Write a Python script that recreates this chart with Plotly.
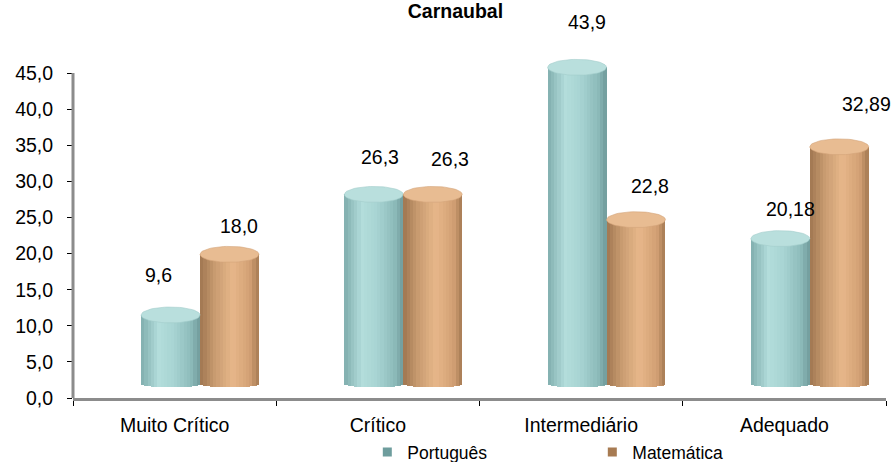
import numpy as np
import plotly.graph_objects as go

# ---- data -------------------------------------------------------------
categories = ["Muito Crítico", "Crítico", "Intermediário", "Adequado"]
portugues = [9.6, 26.3, 43.9, 20.18]
matematica = [18.0, 26.3, 22.8, 32.89]
portugues_decimals = [1, 1, 1, 2]
matematica_decimals = [1, 1, 1, 2]
y_tick_values = [0, 5, 10, 15, 20, 25, 30, 35, 40, 45]

# ---- cylinder styling -------------------------------------------------
FLOOR = 1.9        # depth lift of the 3-D floor (value units)
CAP_H = 1.1        # half-height of the top ellipse
BOTTOM_H = 0.4     # half-height of the rounded bottom
BAR_W = 0.29       # cylinder width in category units
N_SLICES = 18      # vertical strips used for the shading
FONT = "Liberation Sans, Arial, sans-serif"


def hex_to_rgb(h):
    h = h.lstrip("#")
    return np.array([int(h[i:i + 2], 16) for i in (0, 2, 4)], dtype=float)


def shade(stops, t):
    pos = [p for p, _ in stops]
    cols = [hex_to_rgb(c) for _, c in stops]
    for j in range(len(pos) - 1):
        if pos[j] <= t <= pos[j + 1]:
            f = (t - pos[j]) / (pos[j + 1] - pos[j])
            c = cols[j] * (1 - f) + cols[j + 1] * f
            return "rgb(%d,%d,%d)" % tuple(np.round(c))
    c = cols[-1]
    return "rgb(%d,%d,%d)" % tuple(np.round(c))


series = [
    dict(name="Português", values=portugues, decimals=portugues_decimals,
         offset=-0.165,
         stops=[(0, "#80AEAE"), (0.3, "#B3DDDB"), (0.55, "#A8D4D3"),
                (0.85, "#8DBBBA"), (1, "#6F9A9A")],
         cap="#B9DFDD", cap_line="#A3CCCB", legend="#6E9D9D",
         label_dx=[-12, 6, 10, 10], label_dy=[32, 29, 37, 22]),
    dict(name="Matemática", values=matematica, decimals=matematica_decimals,
         offset=0.125,
         stops=[(0, "#A07650"), (0.25, "#C89B70"), (0.55, "#E7B78A"),
                (0.85, "#D2A074"), (1, "#A57A53")],
         cap="#E8BC92", cap_line="#D3A57A", legend="#A77B52",
         label_dx=[9, 17, 14, 27], label_dy=[20, 27, 26, 35]),
]

x_pos = np.arange(len(categories))
fig = go.Figure()

# legend entries (small square keys)
for s in series:
    fig.add_trace(go.Scatter(x=[None], y=[None], name=s["name"],
                             mode="markers",
                             marker=dict(symbol="square", size=9,
                                         color=s["legend"]),
                             showlegend=True, hoverinfo="skip"))

annotations = []
for s in series:
    vals = np.array(s["values"], dtype=float)
    slice_w = BAR_W / N_SLICES
    # shaded body, built from narrow vertical strips
    for i in range(N_SLICES):
        u = ((i + 0.5) / N_SLICES) * 2 - 1
        drop = BOTTOM_H * np.sqrt(max(0.0, 1 - u * u))
        base = FLOOR - drop
        fig.add_trace(go.Bar(
            x=x_pos, y=vals + FLOOR - base, base=[base] * len(vals),
            offset=s["offset"] + i * slice_w,
            width=slice_w * (1.4 if i < N_SLICES - 1 else 1.0),
            marker=dict(color=shade(s["stops"], (i + 0.5) / N_SLICES),
                        line=dict(width=0)),
            showlegend=False, hoverinfo="skip", cliponaxis=False))
    # elliptical top caps
    t = np.linspace(0, 2 * np.pi, 61)
    cx_all, cy_all = [], []
    for k, v in enumerate(vals):
        cx = k + s["offset"] + BAR_W / 2
        cy = v + FLOOR
        cx_all += list(cx + (BAR_W / 2) * np.cos(t)) + [None]
        cy_all += list(cy + CAP_H * np.sin(t)) + [None]
        label = f"{v:.{s['decimals'][k]}f}".replace(".", ",")
        annotations.append(dict(
            x=cx, y=v + FLOOR + CAP_H, text=label, showarrow=False,
            xshift=s["label_dx"][k], yshift=s["label_dy"][k],
            yanchor="middle", xanchor="center",
            font=dict(size=19.5, color="black", family=FONT)))
    fig.add_trace(go.Scatter(
        x=cx_all, y=cy_all, mode="lines", fill="toself",
        fillcolor=s["cap"], line=dict(color=s["cap_line"], width=0.6),
        showlegend=False, hoverinfo="skip"))

fig.update_layout(
    width=893, height=462,
    margin=dict(l=73, r=7, t=37, b=64, autoexpand=False),
    paper_bgcolor="white", plot_bgcolor="white",
    barmode="overlay", bargap=0,
    separators=",.",
    font=dict(family=FONT, size=19.5, color="black"),
    title=dict(text="<b>Carnaubal</b>", x=0.51, xref="container",
               y=1 - 11 / 462, yref="container", yanchor="middle",
               xanchor="center",
               font=dict(size=19.5, family=FONT, color="black")),
    showlegend=True,
    legend=dict(orientation="h", x=0.362, xanchor="left", y=-0.15,
                yanchor="middle", entrywidth=180, entrywidthmode="pixels",
                font=dict(size=17.5, family=FONT, color="black"),
                bgcolor="rgba(0,0,0,0)", itemclick=False),
    xaxis=dict(range=[-0.5, 3.5], tickmode="array", tickvals=list(x_pos),
               ticktext=categories, ticks="", showgrid=False, zeroline=False,
               showline=True, linecolor="#8C8C8C", linewidth=3,
               ticklabelstandoff=8,
               minor=dict(tickvals=[-0.5, 0.5, 1.5, 2.5, 3.5],
                          ticks="outside", ticklen=5, tickwidth=1,
                          tickcolor="black", showgrid=False)),
    yaxis=dict(range=[0, 50], tickmode="array", tickvals=y_tick_values,
               tickformat=".1f", ticks="outside", ticklen=5, tickwidth=1,
               tickcolor="black", showgrid=False, zeroline=False,
               showline=False, ticklabelstandoff=10),
    shapes=[dict(type="line", xref="paper", x0=0, x1=0, yref="y",
                 y0=0, y1=45, line=dict(color="#8C8C8C", width=3))],
    annotations=annotations,
)

fig.write_html("out.html")
